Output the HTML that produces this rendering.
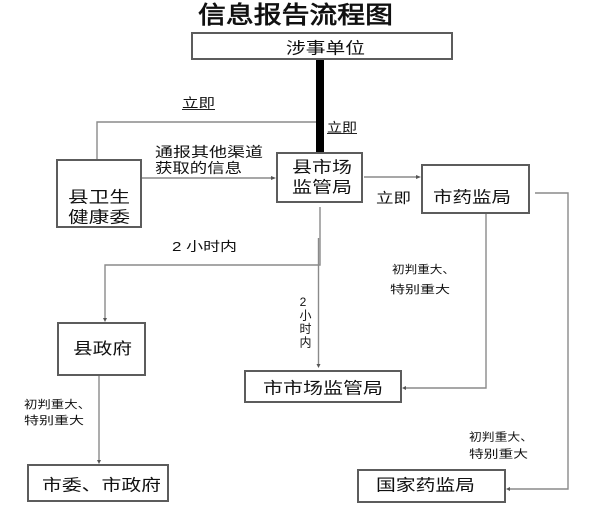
<!DOCTYPE html>
<html><head><meta charset="utf-8">
<style>
html,body{margin:0;padding:0;background:#fff;}
svg{display:block;}
text{font-family:"Liberation Sans","Noto Sans CJK SC",sans-serif;fill:#111;}
</style></head>
<body>
<svg width="602" height="518" viewBox="0 0 602 518" xmlns="http://www.w3.org/2000/svg">
<rect width="602" height="518" fill="#fff"/>
<!-- title -->
<text x="198" y="23" font-size="24" stroke="#111" stroke-width="0.7" textLength="195" lengthAdjust="spacingAndGlyphs">信息报告流程图</text>

<!-- connectors -->
<g stroke="#8a8a8a" stroke-width="1.4" fill="none">
  <polyline points="316,122 97,122 97,159"/>
  <line x1="142" y1="178" x2="273" y2="178"/>
  <line x1="364" y1="177" x2="418" y2="177"/>
  <polyline points="320,207 320,265 105,265 105,319"/>
  <line x1="318.5" y1="238" x2="318.5" y2="365"/>
  <polyline points="486,214 486,388 405,388"/>
  <polyline points="535,193 568,193 568,489 509,489"/>
  <line x1="99" y1="376" x2="99" y2="461"/>
</g>
<g fill="#555">
  <polygon points="276,178 271,176 271,180"/>
  <polygon points="421,177 416,175 416,179"/>
  <polygon points="105,322 103,318 107,318"/>
  <polygon points="318.5,368 316.5,364 320.5,364"/>
  <polygon points="402,388 406,386 406,390"/>
  <polygon points="506,489 510,487 510,491"/>
  <polygon points="99,464 97,460 101,460"/>
</g>
<!-- thick bar -->
<rect x="316" y="60" width="8" height="92" fill="#000"/>

<!-- boxes -->
<g fill="#fff" stroke="#5c5c5c" stroke-width="2">
  <rect x="192" y="33" width="260" height="26"/>
  <rect x="57" y="160" width="84" height="67"/>
  <rect x="277" y="153" width="85" height="49"/>
  <rect x="422" y="165" width="107" height="48"/>
  <rect x="58" y="323" width="87" height="52"/>
  <rect x="245" y="371" width="156" height="31"/>
  <rect x="28" y="465" width="140" height="36"/>
  <rect x="358" y="470" width="147" height="32"/>
</g>

<!-- box texts -->
<g font-size="16">
  <text x="286" y="53.5" textLength="79" lengthAdjust="spacingAndGlyphs">涉事单位</text>
  <text x="292" y="172.5" textLength="60" lengthAdjust="spacingAndGlyphs">县市场</text>
  <text x="292" y="192.5" textLength="60" lengthAdjust="spacingAndGlyphs">监管局</text>
  <text x="68" y="202.5" textLength="62" lengthAdjust="spacingAndGlyphs">县卫生</text>
  <text x="68" y="222.5" textLength="62" lengthAdjust="spacingAndGlyphs">健康委</text>
  <text x="433" y="202.5" textLength="78" lengthAdjust="spacingAndGlyphs">市药监局</text>
  <text x="263" y="393.5" textLength="120" lengthAdjust="spacingAndGlyphs">市市场监管局</text>
  <text x="73" y="354" textLength="59" lengthAdjust="spacingAndGlyphs">县政府</text>
  <text x="42" y="490.5" textLength="119" lengthAdjust="spacingAndGlyphs">市委、市政府</text>
  <text x="376" y="490.5" textLength="99" lengthAdjust="spacingAndGlyphs">国家药监局</text>
</g>

<!-- labels -->
<text x="182" y="107.5" font-size="13" textLength="33" lengthAdjust="spacingAndGlyphs">立即</text>
<line x1="182" y1="109.5" x2="215" y2="109.5" stroke="#222" stroke-width="1"/>
<text x="327" y="132" font-size="13" textLength="30" lengthAdjust="spacingAndGlyphs">立即</text>
<line x1="327" y1="133.5" x2="357" y2="133.5" stroke="#222" stroke-width="1"/>

<text x="155" y="157" font-size="14" textLength="108" lengthAdjust="spacingAndGlyphs">通报其他渠道</text>
<text x="155" y="173" font-size="14" textLength="87" lengthAdjust="spacingAndGlyphs">获取的信息</text>

<text x="376" y="203" font-size="14" textLength="35" lengthAdjust="spacingAndGlyphs">立即</text>

<text x="172" y="251" font-size="13" textLength="65" lengthAdjust="spacingAndGlyphs">2 小时内</text>

<g font-size="12" text-anchor="middle">
  <text x="303" y="306">2</text>
  <text x="305.5" y="319.5">小</text>
  <text x="305.5" y="333">时</text>
  <text x="305.5" y="346.5">内</text>
</g>

<g font-size="11">
  <text x="392" y="273" textLength="63" lengthAdjust="spacingAndGlyphs">初判重大、</text>
  <text x="390" y="293" textLength="60" lengthAdjust="spacingAndGlyphs">特别重大</text>
  <text x="24" y="408" textLength="67" lengthAdjust="spacingAndGlyphs">初判重大、</text>
  <text x="24" y="424" textLength="60" lengthAdjust="spacingAndGlyphs">特别重大</text>
  <text x="469" y="440.5" textLength="64" lengthAdjust="spacingAndGlyphs">初判重大、</text>
  <text x="469" y="457.5" textLength="59" lengthAdjust="spacingAndGlyphs">特别重大</text>
</g>
</svg>
</body></html>
